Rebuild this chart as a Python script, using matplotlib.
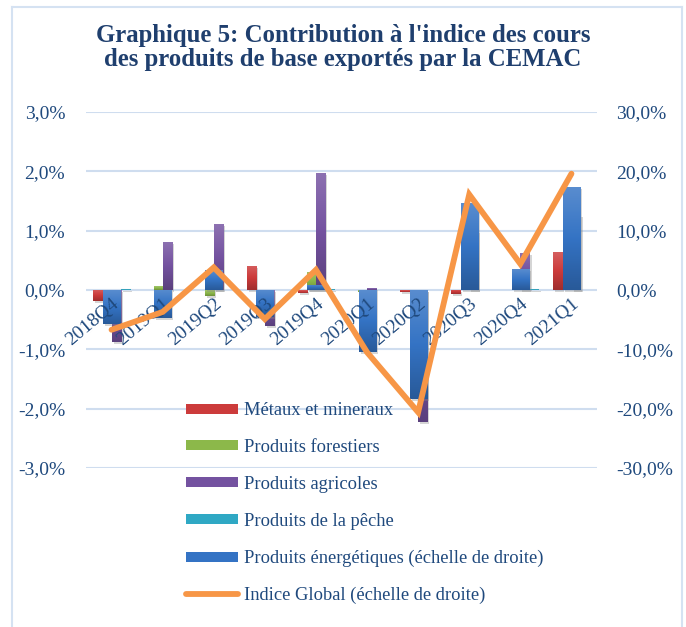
import matplotlib
matplotlib.use("Agg")
import matplotlib.pyplot as plt
import numpy as np
from matplotlib.lines import Line2D
from matplotlib.ticker import FuncFormatter
from matplotlib.colors import LinearSegmentedColormap, to_rgb
import matplotlib.patheffects as pe

# ---- data ----
categories = ['2018Q4', '2019Q1', '2019Q2', '2019Q3', '2019Q4',
              '2020Q1', '2020Q2', '2020Q3', '2020Q4', '2021Q1']
metaux = [-0.19, 0.0, 0.0, 0.41, -0.05, 0.0, -0.03, -0.07, 0.0, 0.64]
forestiers = [0.0, 0.06, -0.10, -0.43, 0.31, -0.03, 0.0, 0.0, 0.0, 0.0]
agricoles = [-0.87, 0.81, 1.11, -0.60, 1.98, 0.03, -2.22, 0.99, 0.63, 1.27]
peche = [0.01, 0.0, 0.0, 0.0, 0.01, 0.0, 0.0, 0.0, 0.01, 0.0]
energetiques = [-5.7, -4.75, 3.3, -4.6, 0.9, -10.4, -18.3, 14.6, 3.5, 17.3]
indice_global = [-6.7, -3.7, 3.8, -4.9, 3.4, -10.5, -20.6, 16.1, 4.4, 19.6]

left_ticks = [-3, -2, -1, 0, 1, 2, 3]
right_ticks = [-30, -20, -10, 0, 10, 20, 30]

labels = ['Métaux et mineraux', 'Produits forestiers', 'Produits agricoles',
          'Produits de la pêche', 'Produits énergétiques (échelle de droite)',
          'Indice Global (échelle de droite)']
title = "Graphique 5: Contribution à l'indice des cours\ndes produits de base exportés par la CEMAC"

# ---- style ----
c_red = '#CC3B3B'
c_green = '#8CB84A'
c_purple = '#7452A0'
c_cyan = '#2FA8C4'
c_blue = '#3473C4'
c_orange = '#F79646'
c_text = '#1F497D'
c_title = '#1F3F6E'
c_grid = '#CFDDEF'

plt.rcParams['font.family'] = ['Liberation Serif', 'DejaVu Serif']

W, H = 686, 627
fig = plt.figure(figsize=(W / 100, H / 100), dpi=100)
fig.patch.set_facecolor('white')

ax_l, ax_r, ax_t, ax_b = 86, 597, 112, 468
ax = fig.add_axes([ax_l / W, 1 - ax_b / H, (ax_r - ax_l) / W, (ax_b - ax_t) / H])
ax2 = ax.twinx()


def grad_cmap(col):
    r = np.array(to_rgb(col))
    light = r + (1 - r) * 0.18
    dark = r * 0.78
    return LinearSegmentedColormap.from_list('g', [light, r, dark])


def add_gradient(a, bars, col, z):
    cm = grad_cmap(col)
    g = np.linspace(0, 1, 64).reshape(-1, 1)
    for b in bars:
        h = b.get_height()
        if h == 0:
            continue
        x0, y0, w = b.get_x(), b.get_y(), b.get_width()
        y1 = y0 + h
        im = a.imshow(g, extent=(x0, x0 + w, min(y0, y1), max(y0, y1)), origin='upper',
                      aspect='auto', cmap=cm, zorder=z, interpolation='bilinear')
        im.set_clip_path(b)


x = np.arange(len(categories))
bw = 0.178
shadow = [pe.SimplePatchShadow(offset=(1.5, -1.5), shadow_rgbFace='#888888', alpha=0.35), pe.Normal()]
for i, (vals, col) in enumerate([(metaux, c_red), (forestiers, c_green),
                                  (agricoles, c_purple), (peche, c_cyan)]):
    bars = ax.bar(x + (i - 1.5) * bw, vals, width=bw, color=col, zorder=3)
    for b in bars:
        b.set_path_effects(shadow)
    add_gradient(ax, bars, col, 3.1)

bars2 = ax2.bar(x, energetiques, width=0.333, color=c_blue, zorder=1)
for b in bars2:
    b.set_path_effects(shadow)
add_gradient(ax2, bars2, c_blue, 1.1)
ax2.plot(x, indice_global, color=c_orange, lw=4.2, solid_joinstyle='miter',
         solid_capstyle='round', zorder=4)

for a in (ax, ax2):
    a.set_xlim(-0.5, len(categories) - 0.5)
ax.set_ylim(-3, 3)
ax2.set_ylim(-30, 30)
ax.set_yticks(left_ticks)
ax2.set_yticks(right_ticks)
fmt = FuncFormatter(lambda v, p: f"{v:.1f}%".replace('.', ','))
ax.yaxis.set_major_formatter(fmt)
ax2.yaxis.set_major_formatter(fmt)

ax.grid(axis='y', color=c_grid, lw=1.5, zorder=0)
ax.set_axisbelow(True)
for a in (ax, ax2):
    for s in a.spines.values():
        s.set_visible(False)
    a.patch.set_visible(False)

ax.tick_params(axis='y', length=0, pad=15, labelsize=14, labelcolor=c_text)
ax2.tick_params(axis='y', length=0, pad=14, labelsize=14, labelcolor=c_text)
ax.tick_params(axis='x', length=0, labelbottom=False)

# category labels on the secondary axes (between bars and line)
ax2.xaxis.set_visible(True)
ax2.spines['bottom'].set_position(('data', 0))
ax2.set_xticks(x)
ax2.set_xticklabels(categories, rotation=40, ha='right', rotation_mode='anchor',
                    fontsize=14, color=c_text)
ax2.tick_params(axis='x', length=0, pad=4, labelbottom=True)

# title
fig.text(0.5, 1 - 24 / H, title, ha='center', va='top', fontsize=17.8,
         fontweight='bold', color=c_title, linespacing=1.07)

# border
bc = '#D5E2F2'
fig.add_artist(Line2D([12 / W, 12 / W], [0, 1 - 7 / H], color=bc, lw=1.5, transform=fig.transFigure))
fig.add_artist(Line2D([682 / W, 682 / W], [0, 1 - 7 / H], color=bc, lw=1.5, transform=fig.transFigure))
fig.add_artist(Line2D([12 / W, 682 / W], [1 - 7 / H, 1 - 7 / H], color=bc, lw=1.5, transform=fig.transFigure))

# legend
handles = [Line2D([], [], color=c, lw=7.2, solid_capstyle='butt')
           for c in (c_red, c_green, c_purple, c_cyan, c_blue)]
handles.append(Line2D([], [], color=c_orange, lw=4.2, solid_capstyle='round'))
leg = ax2.legend(handles, labels, loc='upper left', bbox_to_anchor=(186 / W, 1 - 402 / H),
                 bbox_transform=fig.transFigure, frameon=False, fontsize=13.3,
                 handlelength=2.81, handletextpad=0.32, labelspacing=1.08,
                 borderpad=0, borderaxespad=0)
leg.set_zorder(5)
for t in leg.get_texts():
    t.set_color(c_text)

fig.savefig('out.png', dpi=100)
